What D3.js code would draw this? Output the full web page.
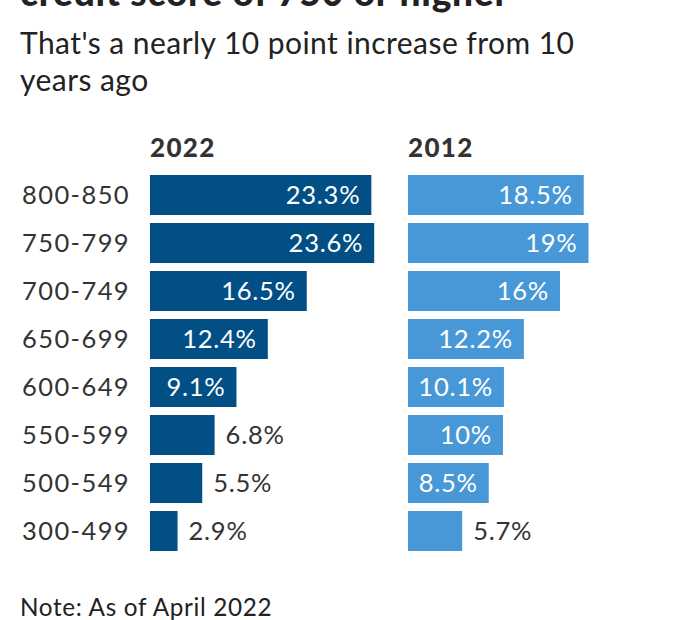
<!DOCTYPE html>
<html>
<head>
<meta charset="utf-8">
<script src="https://cdn.jsdelivr.net/npm/d3@7"></script>
<style>
  html, body { margin: 0; padding: 0; background: #fff; }
  svg { display: block; font-family: "Lato", "Open Sans", sans-serif; }
</style>
</head>
<body>
<svg id="chart" width="676" height="620"></svg>
<script>
const categories = ["800-850", "750-799", "700-749", "650-699", "600-649", "550-599", "500-549", "300-499"];
const values2022 = [23.3, 23.6, 16.5, 12.4, 9.1, 6.8, 5.5, 2.9];
const values2012 = [18.5, 19, 16, 12.2, 10.1, 10, 8.5, 5.7];
const labels2022 = ["23.3%", "23.6%", "16.5%", "12.4%", "9.1%", "6.8%", "5.5%", "2.9%"];
const labels2012 = ["18.5%", "19%", "16%", "12.2%", "10.1%", "10%", "8.5%", "5.7%"];
const seriesNames = ["2022", "2012"];
const titleText = "credit score of 750 or higher";
const subtitleLines = ["That's a nearly 10 point increase from 10", "years ago"];
const noteText = "Note: As of April 2022";

const svg = d3.select("#chart");
const darkBlue = "#024f85";
const lightBlue = "#4898d7";
const textColor = "#333333";

// title (cut off at top of frame)
svg.append("text").attr("x", 20).attr("y", 6)
  .attr("font-size", 37).attr("font-weight", 900).attr("fill", "#222")
  .attr("letter-spacing", 0.8)
  .text(titleText);

subtitleLines.forEach((t, i) => {
  svg.append("text").attr("x", 20).attr("y", 53.5 + i * 37)
    .attr("font-size", 30).attr("fill", "#222").attr("letter-spacing", 0.45).text(t);
});

const y = d3.scaleBand().domain(categories).range([171, 555])
  .paddingInner(8 / 48).paddingOuter(4 / 48);
const x = d3.scaleLinear().domain([0, 25]).range([0, 237.5]);

// category labels
svg.append("g").selectAll("text").data(categories).join("text")
  .attr("x", 22).attr("y", d => y(d) + y.bandwidth() / 2 + 9)
  .attr("font-size", 25.5).attr("letter-spacing", 1.4).attr("fill", textColor).text(d => d);

const panels = [
  { name: seriesNames[0], x0: 150, vals: values2022, labels: labels2022, color: darkBlue },
  { name: seriesNames[1], x0: 408, vals: values2012, labels: labels2012, color: lightBlue }
];

panels.forEach(p => {
  const g = svg.append("g").attr("transform", `translate(${p.x0},0)`);
  g.append("text").attr("x", 0).attr("y", 157)
    .attr("font-size", 26).attr("font-weight", 900).attr("letter-spacing", 1.3)
    .attr("fill", textColor).text(p.name);
  const data = categories.map((c, i) => ({ c, v: p.vals[i], l: p.labels[i] }));
  g.selectAll("rect").data(data).join("rect")
    .attr("x", x(0)).attr("y", d => y(d.c))
    .attr("width", d => x(d.v)).attr("height", y.bandwidth())
    .attr("fill", p.color);
  g.selectAll("text.val").data(data).join("text").attr("class", "val")
    .attr("x", d => d.v >= 8 ? x(d.v) - 11 : x(d.v) + 11)
    .attr("y", d => y(d.c) + y.bandwidth() / 2 + 9)
    .attr("text-anchor", d => d.v >= 8 ? "end" : "start")
    .attr("font-size", 25.5).attr("letter-spacing", 0.75)
    .attr("fill", d => d.v >= 8 ? "#fff" : textColor)
    .text(d => d.l);
});

svg.append("text").attr("x", 20).attr("y", 615.5)
  .attr("font-size", 24.3).attr("letter-spacing", 0.65).attr("fill", "#222").text(noteText);
</script>
</body>
</html>
